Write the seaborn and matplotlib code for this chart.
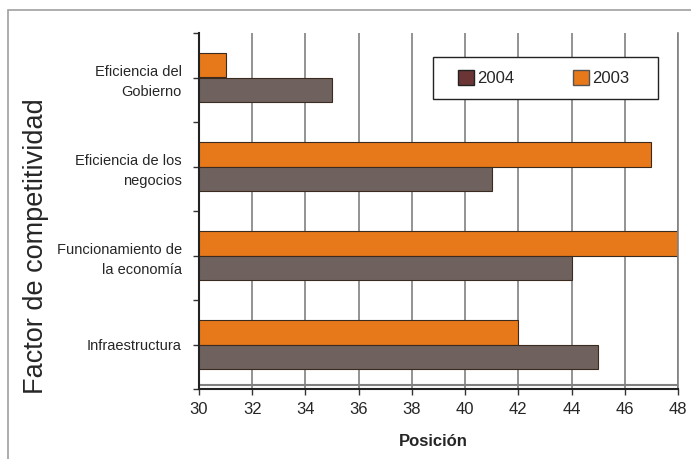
# plot.py

import seaborn as sns
import matplotlib.pyplot as plt
import matplotlib.patches as mpatches
import pandas as pd
import numpy as np

sns.set_style("white")

factores = ['Eficiencia del\nGobierno', 'Eficiencia de los\nnegocios',
            'Funcionamiento de\nla economía', 'Infraestructura']
pos_2003 = [31, 47, 48, 42]
pos_2004 = [35, 41, 44, 45]
years = ['2003', '2004']
x_ticks = [30, 32, 34, 36, 38, 40, 42, 44, 46, 48]

df = pd.DataFrame({
    'Factor': factores * 2,
    'Posicion': pos_2003 + pos_2004,
    'Year': ['2003'] * 4 + ['2004'] * 4,
})

plt.rcParams['font.family'] = ['Liberation Sans Narrow', 'Liberation Sans', 'DejaVu Sans']

fig = plt.figure(figsize=(6.91, 4.59), dpi=100)
ax = fig.add_axes([199 / 691, 1 - 389 / 459, 479 / 691, 356 / 459])

bar_colors = {'2003': '#E8791A', '2004': '#6F625E'}
sns.barplot(data=df, y='Factor', x='Posicion', hue='Year', hue_order=years,
            order=factores, orient='h', palette=bar_colors, saturation=1,
            width=0.56, edgecolor='#3B2A1E', linewidth=0.8, legend=False,
            ax=ax, zorder=2)

ax.set_xlim(30, 48)
ax.set_ylim(3.5, -0.5)
ax.set_xticks(x_ticks)
ax.set_xticklabels([str(t) for t in x_ticks], fontsize=12)
ax.set_yticks(range(len(factores)))
ax.set_yticklabels(factores, fontsize=10.5, linespacing=1.55)
ax.set_yticks(np.arange(-0.5, 4, 1), minor=True)
ax.tick_params(axis='y', which='both', length=4.5, width=1, color='#333333',
               left=True, pad=8)
ax.tick_params(axis='x', length=4, width=1, color='#333333', bottom=True, pad=5)

ax.grid(axis='x', color='#808080', linewidth=1.2, zorder=0)
ax.grid(axis='y', visible=False)
ax.set_axisbelow(True)
ax.axhline(3.45, color='#808080', linewidth=1.5, zorder=1)

ax.spines['top'].set_visible(False)
ax.spines['right'].set_color('#808080')
ax.spines['right'].set_linewidth(1.2)
ax.spines['left'].set_color('#222222')
ax.spines['left'].set_linewidth(1.5)
ax.spines['bottom'].set_color('#222222')
ax.spines['bottom'].set_linewidth(1.5)

ax.set_xlabel('Posición', fontsize=12, fontweight='bold',
              family=['Liberation Sans', 'DejaVu Sans'])
ax.xaxis.set_label_coords(0.49, -0.125)
ax.set_ylabel('Factor de competitividad', fontsize=19.5,
              family=['Liberation Sans', 'DejaVu Sans'])
ax.yaxis.set_label_coords((49 - 199) / 479, 0.40)

# legend box drawn separately so the entries can sit inside it like the original
ax.add_patch(mpatches.Rectangle(((433 - 199) / 479, (389 - 99) / 356),
                                225 / 479, 42 / 356, transform=ax.transAxes,
                                facecolor='white', edgecolor='#222222',
                                linewidth=1, zorder=5))
handles = [mpatches.Patch(facecolor='#6B3535', edgecolor='#222222', label='2004'),
           mpatches.Patch(facecolor='#E8791A', edgecolor='#555555', label='2003')]
leg = ax.legend(handles=handles, ncol=2, loc='center left',
                bbox_to_anchor=((458 - 199) / 479, (389 - 78) / 356),
                borderaxespad=0, borderpad=0, frameon=False, handlelength=0.96,
                handleheight=0.96, handletextpad=0.2, columnspacing=3.5,
                prop={'family': ['Liberation Sans', 'DejaVu Sans'], 'size': 12})
leg.set_zorder(6)

fig.patches.append(mpatches.Rectangle((8 / 691, -0.01), 1, 1 - 10 / 459 + 0.01,
                                      transform=fig.transFigure, fill=False,
                                      edgecolor='#A0A0A0', linewidth=1.2))

plt.savefig('out.png', dpi=100)
